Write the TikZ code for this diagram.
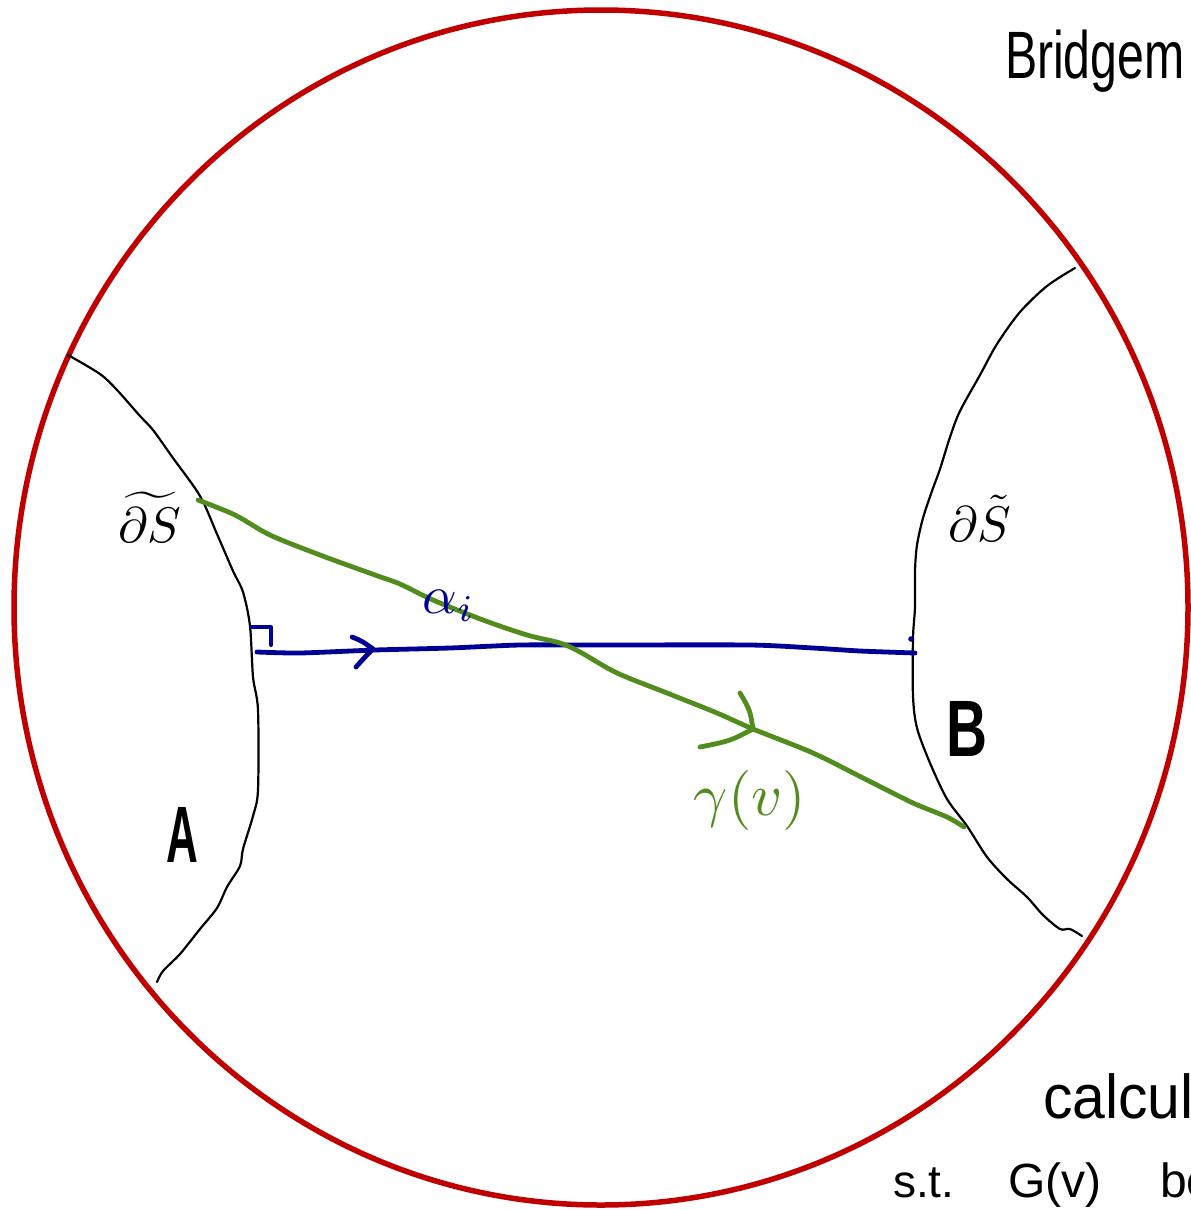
\documentclass[tikz,border=0pt]{standalone}
\usepackage{fontspec}
\setmainfont{Liberation Sans}
\definecolor{circred}{RGB}{192,0,0}
\definecolor{geogreen}{RGB}{82,140,30}
\definecolor{arcblue}{RGB}{0,0,150}
\begin{document}
\begin{tikzpicture}[x=1pt,y=-1pt,
  hand/.style={line cap=round,line join=round},
  bound/.style={hand,black,line width=2.2pt},
  geo/.style={hand,geogreen,line width=4.8pt},
  arcpath/.style={hand,arcblue,line width=4.8pt},
  lbl/.style={inner sep=0pt,outer sep=0pt}]
\path[use as bounding box] (0,0) rectangle (1191,1210);
\clip (0,0) rectangle (1191,1210);
% disc boundary
\draw[circred,line width=5.5pt] (601,607.5) ellipse [x radius=587, y radius=597.5];
% boundary curves
\draw[bound] plot[smooth,tension=0.5] coordinates {(68,355) (100,374) (117,390) (140,416) (153,430) (173,458) (200,496) (217,534) (233,571) (243,592) (250,626) (253,677) (258,710) (258,790) (253,816) (243,849) (240,866) (227,887) (217,908) (200,929) (180,954) (163,971) (157,982)};
\draw[bound] plot[smooth,tension=0.5] coordinates {(1075,268) (1047,286) (1020,312) (997,344) (980,375) (960,411) (950,437) (940,469) (932,491) (923,518) (917,545) (915,571) (915,607) (913,638) (913,696) (917,728) (930,763) (947,799) (967,826) (987,857) (1007,879) (1027,897) (1043,915) (1060,929) (1070,929) (1082,936)};
% blue arc alpha_i
\coordinate (bstart) at (257,652);
\coordinate (bend) at (915,653);
\draw[arcpath] plot[smooth,tension=0.4] coordinates {(bstart) (300,653) (375,650) (450,648) (520,645) (600,645) (750,645) (813,648) (860,651) (bend)};
\coordinate (btip) at (373,649);
\draw[arcpath] (352,637) .. controls (362,641) .. (btip) .. controls (365,657) .. (356,667);
\draw[arcpath,line width=4pt] (251,627) -- (271,627) -- (271,645);
\fill[arcblue] (911,639) circle (2.8);
% green geodesic gamma(v)
\coordinate (gstart) at (198,500);
\coordinate (gend) at (964,827);
\draw[geo] plot[smooth,tension=0.5] coordinates {(gstart) (235,515) (270,535) (320,555) (375,575) (400,584) (433,600) (483,620) (527,635) (560,643) (580,652) (617,673) (667,693) (717,713) (753,729) (813,753) (867,780) (913,803) (947,817) (gend)};
\coordinate (gtip) at (753,729);
\draw[geo] (740,693) .. controls (750,710) .. (gtip);
\draw[geo] (700,747) .. controls (730,741) .. (gtip);
% labels
\node[lbl,scale=5.0] (dSleft) at (150,517) {$\widetilde{\partial S}$};
\node[lbl,scale=5.0] (dSright) at (980,518) {$\partial\tilde{S}$};
\node[lbl,scale=5.4,text=arcblue] (alphai) at (449,606) {$\alpha_i$};
\node[lbl,scale=6.0,text=geogreen] (gammav) at (750,800) {$\gamma(v)$};
\node[lbl,xscale=0.55] (labA) at (182,835) {\fontsize{80}{80}\selectfont\bfseries A};
\node[lbl,xscale=0.71] (labB) at (967,729) {\fontsize{80}{80}\selectfont\bfseries B};
\node[lbl,anchor=base west,xscale=0.72] (title) at (1005,78) {\fontsize{67}{67}\selectfont Bridgem};
\node[lbl,anchor=base west,xscale=0.95] (calc) at (1043,1118) {\fontsize{62}{62}\selectfont calcul};
\node[lbl,anchor=base west] (st) at (893,1197) {\fontsize{46}{46}\selectfont s.t.};
\node[lbl,anchor=base west] (Gv) at (1008,1197) {\fontsize{48}{48}\selectfont G(v)};
\node[lbl,anchor=base west] (be) at (1160,1197) {\fontsize{48}{48}\selectfont be};
\end{tikzpicture}
\end{document}
